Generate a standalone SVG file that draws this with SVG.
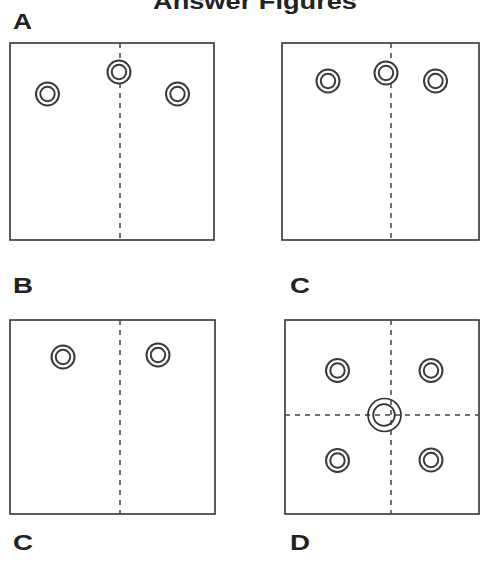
<svg xmlns="http://www.w3.org/2000/svg" width="481" height="562" viewBox="0 0 481 562">
<style>
.lbl{font-family:"Liberation Sans",Arial,sans-serif;font-weight:bold;font-size:22px;fill:#222}
.box{fill:#fff;stroke:#333;stroke-width:1.6}
.dash{stroke:#444;stroke-width:1.5;stroke-dasharray:5 5;fill:none}
.ring{fill:#fff;stroke:#3a3a3a;stroke-width:2}
</style>
<defs>
<g id="hole"><circle r="11.5" class="ring"/><circle r="7.2" class="ring"/></g>
</defs>
<rect width="481" height="562" fill="#fff"/>
<text class="lbl" x="153" y="9" textLength="204" lengthAdjust="spacingAndGlyphs">Answer Figures</text>
<g id="figA">
<text class="lbl" x="13" y="29" textLength="19" lengthAdjust="spacingAndGlyphs">A</text>
<rect class="box" x="10" y="43" width="204" height="197"/>
<line class="dash" x1="120" y1="43" x2="120" y2="240"/>
<use href="#hole" x="47.5" y="94"/>
<use href="#hole" x="119" y="72"/>
<use href="#hole" x="177.5" y="94"/>
</g>
<g id="figTR">
<rect class="box" x="282" y="43" width="197" height="197"/>
<line class="dash" x1="391" y1="43" x2="391" y2="240"/>
<use href="#hole" x="328" y="81"/>
<use href="#hole" x="386" y="73"/>
<use href="#hole" x="435.5" y="81"/>
</g>
<g id="figB">
<text class="lbl" x="13" y="293" textLength="20" lengthAdjust="spacingAndGlyphs">B</text>
<rect class="box" x="10" y="320" width="205" height="194"/>
<line class="dash" x1="120" y1="320" x2="120" y2="514"/>
<use href="#hole" x="63" y="357"/>
<use href="#hole" x="158" y="355"/>
<text class="lbl" x="13" y="550" textLength="20" lengthAdjust="spacingAndGlyphs">C</text>
</g>
<g id="figC">
<text class="lbl" x="290" y="293" textLength="20" lengthAdjust="spacingAndGlyphs">C</text>
<rect class="box" x="285" y="320" width="194" height="194"/>
<line class="dash" x1="391" y1="320" x2="391" y2="514"/>
<line class="dash" x1="285" y1="415" x2="479" y2="415"/>
<use href="#hole" x="337.5" y="370.5"/>
<use href="#hole" x="431" y="370.5"/>
<use href="#hole" x="337.5" y="460.5"/>
<use href="#hole" x="431" y="460"/>
<circle cx="384.5" cy="415" r="16.5" fill="none" stroke="#333" stroke-width="1.7"/>
<circle cx="384" cy="415" r="10.8" fill="none" stroke="#333" stroke-width="1.7"/>
<text class="lbl" x="290" y="550" textLength="20" lengthAdjust="spacingAndGlyphs">D</text>
</g>
</svg>
